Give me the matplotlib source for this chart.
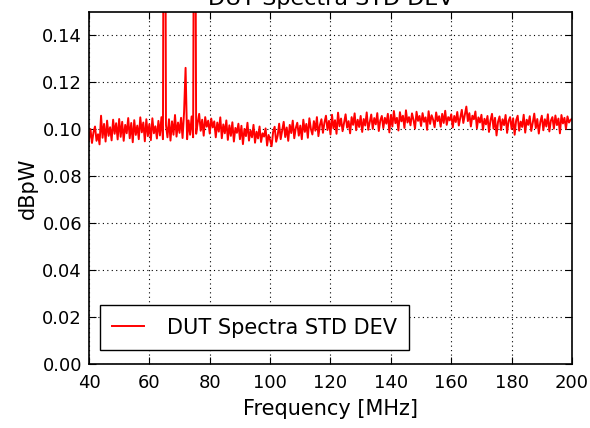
#!/usr/bin/env python3
import numpy as np
import matplotlib
matplotlib.use("Agg")
import matplotlib.pyplot as plt

# std dev, 0.5 MHz steps from 40 to 200 MHz, units of 1e-4
std_e4 = [
    955, 1001, 942, 988, 1012, 951, 979, 936, 1058, 964, 1023, 948, 1037, 972, 1009, 953, 1041, 981, 1026, 957,
    1044, 968, 1032, 951, 1019, 983, 1048, 962, 1027, 945, 1039, 976, 1016, 958, 1051, 987, 1029, 949, 1043, 971,
    1022, 954, 1047, 983, 1013, 961, 1036, 974, 1052, 958, 3500, 1018, 966, 1043, 952, 1034, 977, 1061, 969, 1029,
    985, 1049, 963, 1072, 1262, 958, 1038, 977, 1055, 966, 3000, 981, 1027, 1066, 994, 1041, 973, 1052, 1011, 1037,
    982, 1046, 1008, 1034, 966, 1029, 990, 1051, 962, 1021, 983, 1038, 955, 1017, 972, 1030, 948, 1006, 985, 1024,
    958, 1015, 937, 1002, 971, 1028, 952, 995, 966, 1019, 943, 990, 961, 1012, 946, 983, 969, 1004, 931, 976,
    954, 928, 989, 1011, 947, 973, 1024, 958, 996, 1032, 967, 1008, 951, 1019, 984, 1037, 962, 1005, 1028, 973,
    1016, 958, 1041, 989, 1023, 964, 1047, 1002, 978, 1035, 994, 1052, 971, 1018, 1043, 985, 1029, 1058, 997, 1036,
    978, 1062, 1004, 1039, 981, 1071, 1013, 1046, 992, 1028, 1064, 1007, 1035, 983, 1052, 1019, 1068, 996, 1041, 1010,
    1057, 989, 1044, 1016, 1072, 998, 1031, 1063, 1002, 1048, 1021, 1069, 993, 1038, 1057, 1005, 1049, 1024, 1066, 987,
    1061, 1012, 1078, 1026, 1049, 995, 1073, 1034, 1058, 1006, 1081, 1029, 1052, 1017, 1068, 1040, 1003, 1075, 1036, 1057,
    1014, 1069, 1032, 1051, 998, 1077, 1023, 1060, 1041, 1009, 1072, 1035, 1056, 1011, 1066, 1027, 1079, 1019, 1052, 1038,
    1064, 1008, 1057, 1031, 1074, 1016, 1049, 1083, 1027, 1061, 1097, 1035, 1069, 1012, 1058, 1043, 1076, 1004, 1051, 1029,
    1062, 998, 1045, 1021, 1057, 989, 1038, 1066, 1003, 1049, 974, 1032, 1055, 997, 1043, 1018, 1061, 985, 1036, 1052,
    1001, 1047, 977, 1039, 1058, 994, 1033, 1010, 1062, 986, 1041, 1019, 1056, 993, 1028, 1067, 1005, 1044, 982, 1031,
    1058, 996, 1043, 1012, 1064, 991, 1037, 1052, 1003, 1059, 1018, 1046, 983, 1061, 1025, 1049, 1002, 1055, 1029, 1040,
    1045,
]
freq = np.linspace(40, 200, len(std_e4))
std = np.array(std_e4) * 1e-4

xticks = [40, 60, 80, 100, 120, 140, 160, 180, 200]
yticks = [0.00, 0.02, 0.04, 0.06, 0.08, 0.10, 0.12, 0.14]

plt.rcParams['font.family'] = ['DejaVu Sans']
plt.rcParams['xtick.direction'] = 'in'
plt.rcParams['ytick.direction'] = 'in'

fig = plt.figure(figsize=(5.9, 4.28), dpi=100)
ax = fig.add_axes([0.1508, 0.1495, 0.8187, 0.8225])

ax.plot(freq, std, color='red', lw=1.4, label='DUT Spectra STD DEV')

ax.set_xlim(40, 200)
ax.set_ylim(0, 0.15)
ax.set_xticks(xticks)
ax.set_yticks(yticks)
ax.set_yticklabels(['%.2f' % v for v in yticks])
ax.tick_params(axis='both', which='major', labelsize=13, length=5, width=0.8,
               top=True, right=True)
ax.tick_params(axis='x', pad=7)
ax.tick_params(axis='y', pad=5)
ax.grid(True, color='black', linestyle=(0, (1, 3)), linewidth=0.8)
for s in ax.spines.values():
    s.set_linewidth(1.2)

ax.set_xlabel('Frequency [MHz]', fontsize=15, labelpad=5)
ax.set_ylabel('dBpW', fontsize=15)
ax.yaxis.set_label_coords(-0.106, 0.5)
ax.set_title('DUT Spectra STD DEV', fontsize=16, pad=5)

leg = ax.legend(loc='lower left', bbox_to_anchor=(0.0228, 0.0398), fontsize=15,
                fancybox=False, framealpha=1, borderaxespad=0,
                handlelength=1.5, handletextpad=1.1, borderpad=0.6)
leg.get_frame().set_edgecolor('black')
leg.get_frame().set_linewidth(1.0)

fig.savefig('out.png', dpi=100)
